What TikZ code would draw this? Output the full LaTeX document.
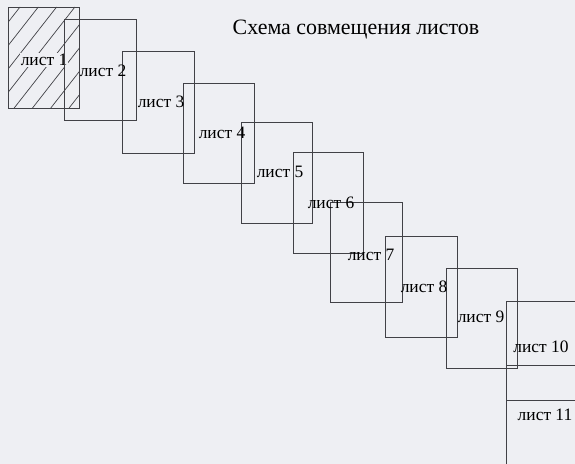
\documentclass[tikz,border=0pt]{standalone}
\usepackage{fontspec}
\setmainfont{Liberation Serif}
\usepackage{tikz}
\definecolor{paper}{RGB}{238,239,243}
\definecolor{ink}{RGB}{65,65,70}

\begin{document}
\begin{tikzpicture}[x=1bp,y=-1bp,
  sheet/.style={draw=ink,line width=0.85pt},
  lbl/.style={inner sep=1pt,font=\fontsize{17.5}{20}\selectfont}]
\clip (0,0) rectangle (575,464);
\fill[paper] (0,0) rectangle (575,464);
\node (title) at (356,30) {\fontsize{22}{24}\selectfont Схема совмещения листов};
% hatching of sheet 1
\begin{scope}
\clip (8,7) rectangle (79,108);
\foreach \k in {-1,...,8}
  \draw[ink,line width=0.7pt] (20+18.3*\k,7) -- (20+18.3*\k-79,108);
\end{scope}
\node[lbl,fill=paper] (l1) at (44,60) {лист 1};
% sheets
\draw[sheet] (8,7) rectangle (79,108);
\draw[sheet] (64,19) rectangle (136,120);
\draw[sheet] (122,51) rectangle (194,153);
\draw[sheet] (183,83) rectangle (254,183);
\draw[sheet] (241,122) rectangle (312,223);
\draw[sheet] (293,152) rectangle (363,253);
\draw[sheet] (330,202) rectangle (402,302);
\draw[sheet] (385,236) rectangle (457,337);
\draw[sheet] (446,268) rectangle (517,368);
\draw[sheet] (506,301) rectangle (600,400);
\draw[sheet] (506,365) rectangle (600,480);
\node[lbl] (l2) at (103,71) {лист 2};
\node[lbl] (l3) at (161,102) {лист 3};
\node[lbl] (l4) at (222,133) {лист 4};
\node[lbl] (l5) at (280,172) {лист 5};
\node[lbl] (l6) at (331,203) {лист 6};
\node[lbl] (l7) at (371,255) {лист 7};
\node[lbl] (l8) at (424,287) {лист 8};
\node[lbl] (l9) at (481,317) {лист 9};
\node[lbl] (l10) at (541,347) {лист 10};
\node[lbl] (l11) at (545,415) {лист 11};
\end{tikzpicture}
\end{document}
